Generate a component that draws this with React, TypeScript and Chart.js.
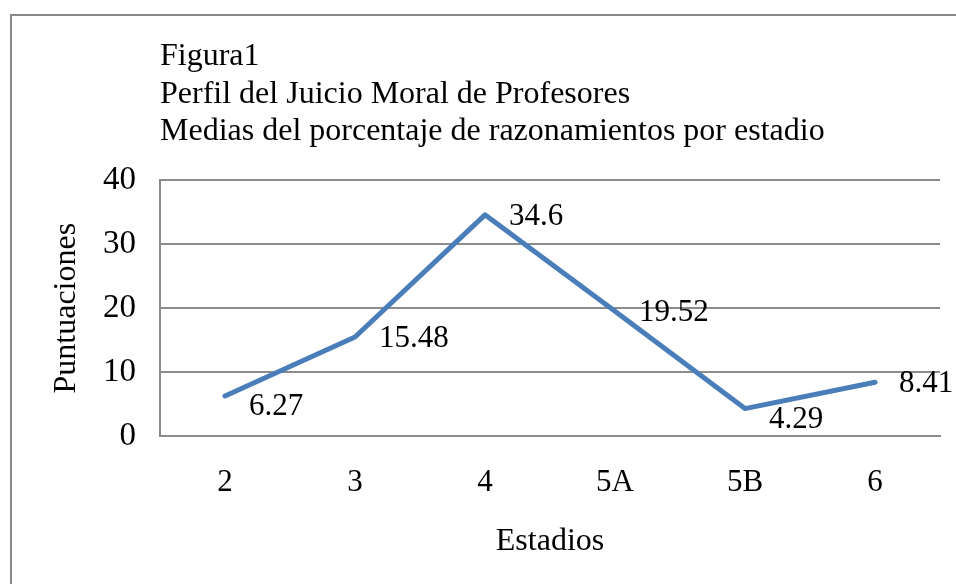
import React, { useEffect, useRef } from 'react';
import { Chart, registerables } from 'chart.js';

Chart.register(...registerables);

const categories = ['2', '3', '4', '5A', '5B', '6'];
const values = [6.27, 15.48, 34.6, 19.52, 4.29, 8.41];
const titleLines = [
  'Figura1',
  'Perfil del Juicio Moral de Profesores',
  'Medias del porcentaje de razonamientos por estadio',
];
const xTitle = 'Estadios';
const yTitle = 'Puntuaciones';
const yMin = 0;
const yMax = 40;
const yStep = 10;

const FONT = "'Liberation Serif', 'Times New Roman', serif";
const GRID = '#8c8c8c';
const LINE = '#4A7EBB';

const framePlugin = {
  id: 'frame',
  beforeDraw(chart: any) {
    const ctx = chart.ctx;
    ctx.save();
    ctx.fillStyle = '#ffffff';
    ctx.fillRect(0, 0, chart.width, chart.height);
    ctx.strokeStyle = '#888888';
    ctx.lineWidth = 2;
    ctx.beginPath();
    ctx.moveTo(11, chart.height + 5);
    ctx.lineTo(11, 15);
    ctx.lineTo(chart.width + 5, 15);
    ctx.stroke();
    ctx.restore();
  },
};

const labelPlugin = {
  id: 'pointLabels',
  afterDatasetsDraw(chart: any) {
    const ctx = chart.ctx;
    const meta = chart.getDatasetMeta(0);
    ctx.save();
    ctx.font = `31px ${FONT}`;
    ctx.fillStyle = '#000000';
    ctx.textAlign = 'left';
    ctx.textBaseline = 'middle';
    meta.data.forEach((pt: any, i: number) => {
      const v = values[i];
      const prev = values[i - 1];
      const next = values[i + 1];
      const isMin = (prev === undefined || prev > v) && (next === undefined || next > v);
      ctx.fillText(String(v), pt.x + 24, pt.y + (isMin ? 11 : 2));
    });
    ctx.restore();
  },
};

export default function App() {
  const ref = useRef<HTMLCanvasElement | null>(null);

  useEffect(() => {
    if (!ref.current) return;
    const chart = new Chart(ref.current, {
      type: 'line',
      data: {
        labels: categories,
        datasets: [
          {
            data: values,
            borderColor: LINE,
            backgroundColor: LINE,
            borderWidth: 5,
            pointRadius: 0,
            tension: 0,
            borderCapStyle: 'round',
            borderJoinStyle: 'round',
          },
        ],
      },
      options: {
        animation: false,
        responsive: true,
        maintainAspectRatio: false,
        layout: { padding: { left: 0, right: 16, top: 0, bottom: 0 } },
        plugins: {
          legend: { display: false },
          tooltip: { enabled: false },
          title: {
            display: true,
            text: titleLines,
            align: 'start',
            fullSize: false,
            color: '#000000',
            font: { family: FONT, size: 32, weight: 'normal', lineHeight: 1.17 },
            padding: { top: 38, bottom: 30 },
          },
        },
        scales: {
          x: {
            offset: true,
            grid: { display: false, drawTicks: false },
            border: { display: true, color: GRID, width: 2 },
            ticks: { color: '#000000', font: { family: FONT, size: 31 }, padding: 28 },
            title: {
              display: true,
              text: xTitle,
              color: '#000000',
              font: { family: FONT, size: 32 },
              padding: { top: 0, bottom: 23 },
            },
            afterFit(scale: any) {
              scale.height = 148;
            },
          },
          y: {
            min: yMin,
            max: yMax,
            ticks: { stepSize: yStep, color: '#000000', font: { family: FONT, size: 33 }, padding: 24 },
            grid: { color: GRID, lineWidth: 2, drawTicks: false },
            border: { display: true, color: GRID, width: 2 },
            title: {
              display: true,
              text: yTitle,
              color: '#000000',
              font: { family: FONT, size: 32 },
              padding: { top: 47, bottom: 0 },
            },
            afterFit(scale: any) {
              scale.width = 160;
            },
          },
        },
      },
      plugins: [framePlugin, labelPlugin],
    });
    return () => chart.destroy();
  }, []);

  return (
    <div style={{ position: 'fixed', left: 0, top: 0, width: 956, height: 584, background: '#fff' }}>
      <canvas ref={ref} />
    </div>
  );
}
